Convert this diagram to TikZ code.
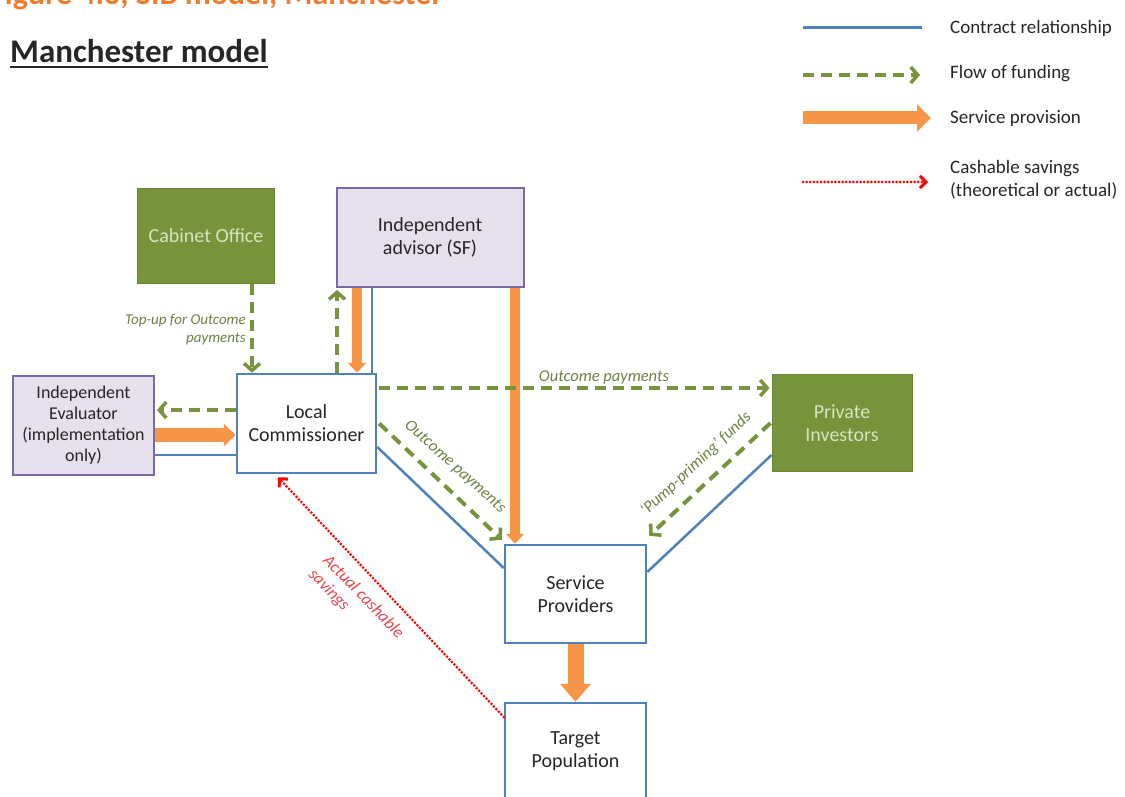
\documentclass[tikz,border=0pt]{standalone}
\usepackage{fontspec}
\setmainfont{Carlito}
\usetikzlibrary{arrows.meta}
\definecolor{gfill}{HTML}{77933C}
\definecolor{gtext}{HTML}{D7E4BD}
\definecolor{lavfill}{HTML}{E6E0EC}
\definecolor{lavdraw}{HTML}{7B68A6}
\definecolor{cblue}{HTML}{4F81BD}
\definecolor{orng}{HTML}{F79646}
\definecolor{fgreen}{HTML}{77933C}
\definecolor{lblgreen}{HTML}{6E8043}
\definecolor{lblred}{HTML}{E8434A}
\definecolor{titleor}{HTML}{EE7D31}
\definecolor{darktext}{HTML}{262626}
\begin{document}
\begin{tikzpicture}[x=1pt,y=-1pt,
  boxtext/.style={font=\fontsize{20}{23}\selectfont, align=center, inner sep=0pt},
  greenbox/.style={boxtext, rectangle, fill=gfill, draw=gfill!90!black, line width=1pt, text=gtext},
  lavbox/.style={boxtext, rectangle, fill=lavfill, draw=lavdraw, line width=2pt, text=darktext},
  bluebox/.style={boxtext, rectangle, fill=white, draw=cblue, line width=2.5pt, text=darktext},
  fund/.style={draw=fgreen, line width=4pt, dash pattern=on 11pt off 7pt,
    -{Straight Barb[length=7pt,width=16pt,line width=3.5pt]}},
  provision/.style={draw=orng, line width=10pt, -{Triangle[length=10pt,width=18pt]}},
  contract/.style={draw=cblue, line width=2.5pt},
  savingsline/.style={draw=red, line width=3pt, dash pattern=on 0pt off 3.6pt, line cap=round,
    -{Straight Barb[length=6pt,width=12pt,line width=3pt]}},
  lbl/.style={font=\itshape\fontsize{16.5}{19}\selectfont, text=lblgreen, inner sep=0pt},
  legtext/.style={font=\fontsize{19}{23}\selectfont, text=darktext, anchor=west, inner sep=0pt, align=left}
]
\useasboundingbox (0,0) rectangle (1125,797);

% title and heading
\node[anchor=base west, inner sep=0pt, text=titleor, font=\bfseries\fontsize{32}{36}\selectfont] (fig) at (-10,5) {Figure 4.6, SIB model, Manchester};
\node[anchor=base west, inner sep=0pt, text=darktext, font=\bfseries\fontsize{33}{36}\selectfont] (head) at (10,63) {Manchester model};
\draw[darktext, line width=2pt] ([yshift=-4pt]head.base west) -- ([yshift=-4pt]head.base east);

% legend
\coordinate (l1a) at (803,28);  \coordinate (l1b) at (922,28);
\coordinate (l2a) at (803,75);  \coordinate (l2b) at (920,75);
\coordinate (l3a) at (803,118); \coordinate (l3b) at (931,118);
\coordinate (l4a) at (803,182); \coordinate (l4b) at (928,182);
\draw[contract, line width=3pt] (l1a) -- (l1b);
\draw[fund] (l2a) -- (l2b);
\draw[provision, line width=13pt, -{Triangle[length=14pt,width=27pt]}] (l3a) -- (l3b);
\draw[savingsline] (l4a) -- (l4b);
\node[legtext] (t1) at (950,28) {Contract relationship};
\node[legtext] (t2) at (950,74) {Flow of funding};
\node[legtext] (t3) at (950,118) {Service provision};
\node[legtext] (t4) at (950,180) {Cashable savings\\(theoretical or actual)};

% boxes
\node[greenbox, minimum width=137pt, minimum height=95pt] (cabinet) at (206,236) {Cabinet Office};
\node[lavbox, minimum width=187pt, minimum height=99pt] (advisor) at (430,237.5) {Independent\\advisor (SF)};
\node[lavbox, minimum width=141pt, minimum height=99pt, font=\fontsize{18}{21}\selectfont] (evaluator) at (83.5,425.5) {Independent\\Evaluator\\(implementation\\only)};
\node[bluebox, minimum width=139pt, minimum height=99pt] (lc) at (306.5,423.5) {Local\\Commissioner};
\node[greenbox, minimum width=140pt, minimum height=97pt] (investors) at (842,423) {Private\\Investors};
\node[bluebox, minimum width=141pt, minimum height=98pt] (sp) at (575.5,594) {Service\\Providers};
\node[bluebox, minimum width=141pt, minimum height=96pt] (tp) at (575.5,751) {Target\\Population};

% connectors
\draw[fund] ([xshift=46pt]cabinet.south) -- ([xshift=-54.5pt]lc.north);
\node[lbl, font=\itshape\fontsize{15}{18}\selectfont, align=right, anchor=east] (topup) at (246,330) {Top-up for Outcome\\payments};

\draw[fund] ([xshift=30.5pt]lc.north) -- ([xshift=-93pt,yshift=-2pt]advisor.south);
\draw[provision] ([xshift=-73pt]advisor.south) -- ([xshift=50.5pt]lc.north);
\draw[contract] ([xshift=-58pt]advisor.south) -- ([xshift=65.5pt]lc.north);
\draw[provision] ([xshift=85pt]advisor.south) -- ([xshift=-60.5pt]sp.north);

\draw[fund] ([yshift=35.5pt,xshift=2pt]lc.east) -- ([yshift=35pt,xshift=-2pt]investors.west);
\node[lbl] (op1) at (604,377) {Outcome payments};

\draw[fund] ([yshift=13.5pt]lc.west) -- ([yshift=15.5pt,xshift=2pt]evaluator.east);
\draw[provision, line width=14pt, -{Triangle[length=12pt,width=22pt]}] ([yshift=-9.5pt]evaluator.east) -- ([yshift=-11.5pt]lc.west);
\draw[contract] ([yshift=-29.5pt]evaluator.east) -- ([yshift=-31.5pt]lc.west);

\draw[fund] ([xshift=2pt]lc.east) -- ([xshift=-2pt,yshift=4pt]sp.north west);
\node[lbl, rotate=-42] (op2) at (455,467) {Outcome payments};
\draw[contract] ([yshift=-23.5pt]lc.east) -- ([yshift=26pt]sp.west);

\draw[fund] ([xshift=-1pt]investors.west) -- ([xshift=2pt,yshift=8pt]sp.north east);
\node[lbl, rotate=43] (pp) at (696,464) {‘Pump-priming’ funds};
\draw[contract] ([yshift=-32pt]investors.west) -- ([yshift=22pt]sp.east);

\draw[provision, line width=16pt, -{Triangle[length=18pt,width=30pt]}] (sp.south) -- (tp.north);

\draw[savingsline] ([yshift=34pt]tp.west) -- ([xshift=-28.5pt,yshift=-3pt]lc.south);
\node[lbl, text=lblred, font=\itshape\fontsize{17}{20}\selectfont, align=left, rotate=-46] (sav) at (356,604) {Actual cashable\\savings};
\end{tikzpicture}
\end{document}
